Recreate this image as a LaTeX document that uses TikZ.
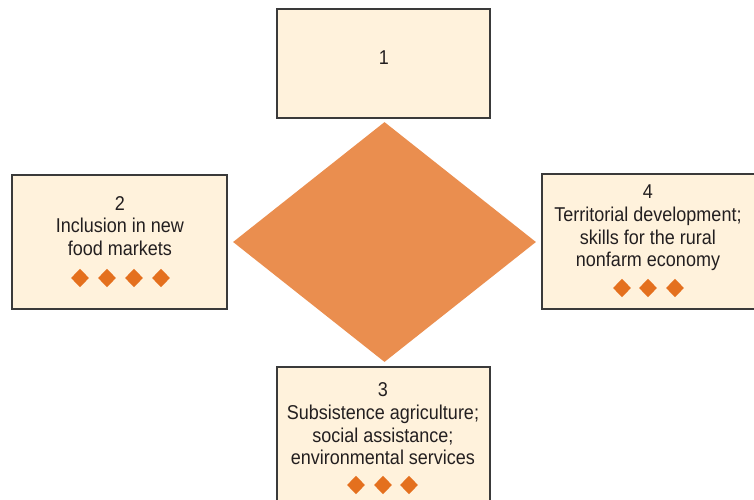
\documentclass[tikz,border=0pt]{standalone}
\usepackage{fontspec}
\setmainfont{Liberation Sans}[FakeStretch=0.9]
\usetikzlibrary{shapes.geometric}
\definecolor{boxfill}{HTML}{FFF2DC}
\definecolor{boxline}{HTML}{3A3A3A}
\definecolor{bigdia}{HTML}{EA8E4F}
\definecolor{smalldia}{HTML}{E4701E}
\definecolor{txt}{HTML}{231F20}
\tikzset{
  box/.style={draw=boxline, fill=boxfill, line width=0.8pt},
  lbl/.style={text=txt, font=\fontsize{15pt}{17pt}\selectfont, align=center, inner sep=0pt},
  mark dia/.style={diamond, fill=smalldia, inner sep=0pt, minimum width=13.5pt, minimum height=14pt},
}
\begin{document}
\begin{tikzpicture}[x=0.75pt, y=-0.75pt]
\useasboundingbox (0,0) rectangle (754,500);
% boxes
\draw[box] (277,9) rectangle (490,118);
\draw[box] (12,175) rectangle (227,309);
\draw[box] (542,174) rectangle (756,309);
\draw[box] (277,367) rectangle (490,504);
% big diamond
\node[diamond, fill=bigdia, inner sep=0pt, minimum width=227.25pt, minimum height=180pt] (core) at (384.5,242) {};
% texts
\node[lbl] (t1) at (384,58) {1};
\node[lbl] (t2) at (120,226) {2\\Inclusion in new\\food markets};
\node[lbl] (t4) at (648,228) {4\\Territorial development;\\skills for the rural\\nonfarm economy};
\node[lbl] (t3) at (383,424) {3\\Subsistence agriculture;\\social assistance;\\environmental services};
% small diamonds
\foreach \x [count=\i] in {80,107,134,161} \node[mark dia] (d2\i) at (\x,278) {};
\foreach \x [count=\i] in {622,648,675} \node[mark dia] (d4\i) at (\x,288) {};
\foreach \x [count=\i] in {356,383,409} \node[mark dia] (d3\i) at (\x,485) {};
\end{tikzpicture}
\end{document}
